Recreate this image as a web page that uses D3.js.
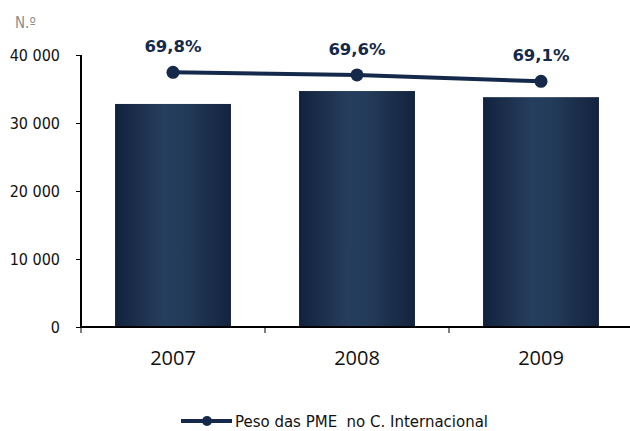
<!DOCTYPE html>
<html>
<head>
<meta charset="utf-8">
<script src="https://cdn.jsdelivr.net/npm/d3@7/dist/d3.min.js"></script>
<style>
  html, body { margin: 0; padding: 0; background: #fff; }
  svg { display: block; }
</style>
</head>
<body>
<svg id="chart" width="630" height="431"></svg>
<script>
// ---- Data ----
const categories = ["2007", "2008", "2009"];
const barValues = [32800, 34700, 33800];
const sharePct = [69.8, 69.6, 69.1];
const shareLabels = ["69,8%", "69,6%", "69,1%"];
const yTicks = [0, 10000, 20000, 30000, 40000];
const yTickLabels = ["0", "10 000", "20 000", "30 000", "40 000"];
const unitLabel = "N.º";
const legendLabel = "Peso das PME  no C. Internacional";

const navy = "#152a4b";
const svg = d3.select("#chart");

const x = d3.scaleBand().domain(categories).range([81, 633]).padding(0);
const y = d3.scaleLinear().domain([0, 40000]).range([327, 55]);
const y2 = d3.scaleLinear().domain([50, 71.15]).range([327, 55]);

// gradient
const defs = svg.append("defs");
const grad = defs.append("linearGradient").attr("id", "barGrad")
  .attr("x1", "0%").attr("x2", "100%").attr("y1", "0%").attr("y2", "0%");
[[0, "#12223d"], [0.42, "#263e5e"], [0.58, "#243c5b"], [1, "#13233e"]].forEach(([o, c]) =>
  grad.append("stop").attr("offset", o).attr("stop-color", c));

// bars
const barW = x.bandwidth() * 0.63;
svg.append("g").selectAll("rect").data(categories).join("rect")
  .attr("x", (d) => x(d) + (x.bandwidth() - barW) / 2)
  .attr("width", barW)
  .attr("y", (d, i) => y(barValues[i]))
  .attr("height", (d, i) => y(0) - y(barValues[i]))
  .attr("fill", "url(#barGrad)");

// y axis
const yAxis = d3.axisLeft(y).tickValues(yTicks)
  .tickFormat((d, i) => yTickLabels[i]).tickSize(5).tickPadding(16);
const gy = svg.append("g").attr("transform", "translate(81,0)").call(yAxis);
gy.select(".domain").attr("stroke", "#000").attr("stroke-width", 2).attr("d", "M0,55V327");
gy.selectAll(".tick line").attr("stroke", "#000").attr("stroke-width", 1);
gy.selectAll(".tick text")
  .attr("font-family", "'DejaVu Sans Condensed', 'DejaVu Sans', sans-serif")
  .attr("font-stretch", "condensed")
  .attr("font-size", 16).attr("fill", "#111");

// x axis
const xAxis = d3.axisBottom(x).tickSize(0).tickPadding(24);
const gx = svg.append("g").attr("transform", "translate(0,327)").call(xAxis);
gx.select(".domain").attr("stroke", "#000").attr("stroke-width", 2).attr("d", "M80,0H630");
gx.selectAll(".tick text")
  .attr("font-family", "'Open Sans', 'Noto Sans', sans-serif")
  .attr("font-size", 20).attr("fill", "#111").attr("dy", "0.71em");
// boundary ticks
svg.append("g").selectAll("line").data(categories).join("line")
  .attr("x1", (d) => x(d)).attr("x2", (d) => x(d))
  .attr("y1", 327).attr("y2", 333)
  .attr("stroke", "#000").attr("stroke-width", 1);

// unit label
svg.append("text").attr("x", 15).attr("y", 28).text(unitLabel)
  .attr("font-family", "'DejaVu Sans Condensed', 'DejaVu Sans', sans-serif")
  .attr("font-stretch", "condensed")
  .attr("font-size", 15).attr("fill", "#8c8c8c");

// line
const cx = (d) => x(d) + x.bandwidth() / 2;
const line = d3.line().x((d) => cx(d)).y((d, i) => y2(sharePct[i]));
svg.append("path").datum(categories).attr("d", line)
  .attr("fill", "none").attr("stroke", navy).attr("stroke-width", 4);
svg.append("g").selectAll("circle").data(categories).join("circle")
  .attr("cx", (d) => cx(d)).attr("cy", (d, i) => y2(sharePct[i]))
  .attr("r", 6.5).attr("fill", navy);
svg.append("g").selectAll("text").data(categories).join("text")
  .attr("x", (d) => cx(d)).attr("y", (d, i) => y2(sharePct[i]) - 20)
  .attr("text-anchor", "middle")
  .attr("font-family", "'DejaVu Sans', sans-serif").attr("font-weight", "bold")
  .attr("font-size", 16.5).attr("fill", navy)
  .text((d, i) => shareLabels[i]);

// legend
const lg = svg.append("g");
lg.append("line").attr("x1", 181).attr("x2", 232).attr("y1", 421).attr("y2", 421)
  .attr("stroke", navy).attr("stroke-width", 4);
lg.append("circle").attr("cx", 207).attr("cy", 421).attr("r", 5).attr("fill", navy);
lg.append("text").attr("x", 235).attr("y", 427).text(legendLabel)
  .attr("font-family", "'DejaVu Sans Condensed', 'DejaVu Sans', sans-serif")
  .attr("font-stretch", "condensed")
  .attr("font-size", 15).attr("fill", "#111")
  .attr("textLength", 253).attr("lengthAdjust", "spacingAndGlyphs")
  .style("white-space", "pre");
</script>
</body>
</html>
